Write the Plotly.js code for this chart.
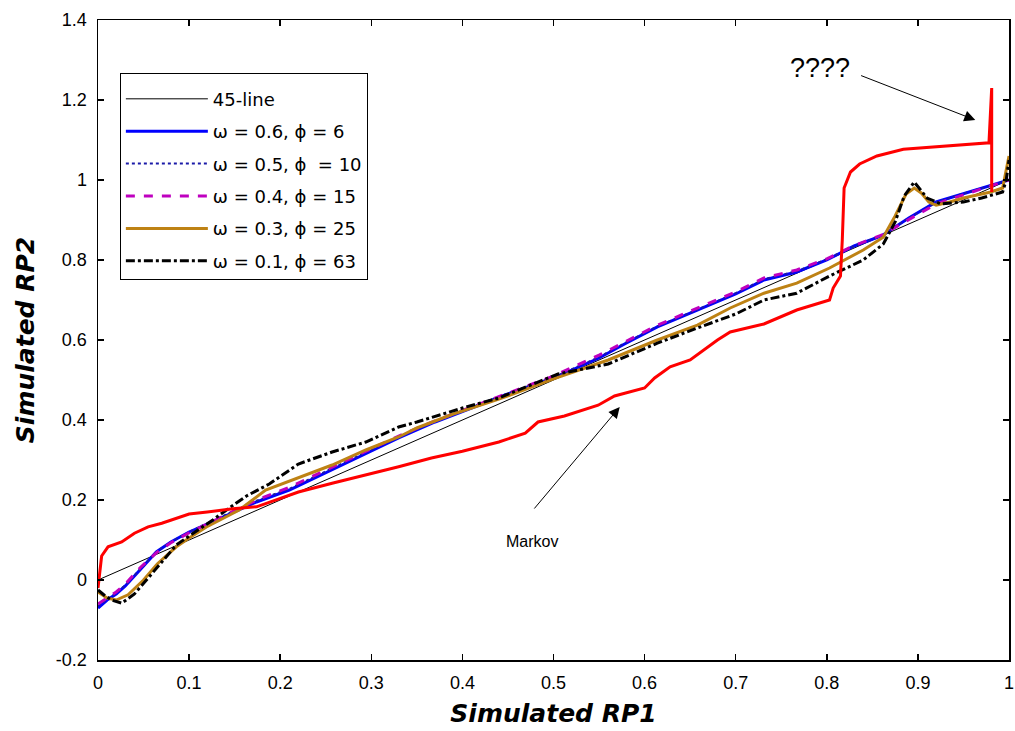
<!DOCTYPE html>
<html>
<head>
<meta charset="utf-8">
<script src="https://cdn.plot.ly/plotly-3.0.1.min.js"></script>
<style>html,body{margin:0;padding:0;background:#fff;}#chart{width:1015px;height:731px;}</style>
</head>
<body>
<div id="chart"></div>
<script>
// ---- data ----
const lineX = [0, 1];
const lineY = [0, 1];

const w6X = [0, 0.01, 0.02, 0.03, 0.046, 0.064, 0.08, 0.1, 0.12, 0.137, 0.15, 0.174, 0.21, 0.25, 0.29, 0.33, 0.37, 0.41, 0.45, 0.5, 0.55, 0.578, 0.614, 0.65, 0.68, 0.7, 0.731, 0.767, 0.8, 0.83, 0.86, 0.89, 0.92, 0.95, 0.98, 1.0];
const w6Y = [-0.07, -0.05, -0.035, -0.015, 0.025, 0.07, 0.095, 0.12, 0.14, 0.1575, 0.17, 0.195, 0.225, 0.268, 0.312, 0.355, 0.395, 0.43, 0.465, 0.505, 0.555, 0.59, 0.633, 0.667, 0.695, 0.715, 0.75, 0.77, 0.8, 0.835, 0.86, 0.905, 0.945, 0.965, 0.985, 1.0];

const w5X = [0, 0.01, 0.02, 0.03, 0.046, 0.064, 0.08, 0.1, 0.12, 0.137, 0.15, 0.174, 0.21, 0.25, 0.29, 0.33, 0.37, 0.41, 0.45, 0.5, 0.55, 0.578, 0.614, 0.65, 0.68, 0.7, 0.731, 0.767, 0.8, 0.83, 0.86, 0.89, 0.92, 0.95, 0.98, 1.0];
const w5Y = [-0.065, -0.048, -0.033, -0.013, 0.027, 0.07, 0.095, 0.12, 0.142, 0.16, 0.172, 0.198, 0.228, 0.272, 0.315, 0.357, 0.397, 0.432, 0.467, 0.507, 0.557, 0.592, 0.634, 0.668, 0.697, 0.717, 0.752, 0.772, 0.802, 0.835, 0.861, 0.905, 0.944, 0.966, 0.986, 1.0];

const w4X = [0, 0.01, 0.02, 0.03, 0.046, 0.064, 0.08, 0.1, 0.12, 0.137, 0.15, 0.174, 0.21, 0.25, 0.29, 0.33, 0.37, 0.41, 0.45, 0.5, 0.55, 0.578, 0.614, 0.65, 0.68, 0.7, 0.731, 0.767, 0.8, 0.83, 0.86, 0.89, 0.92, 0.95, 0.98, 1.0];
const w4Y = [-0.06, -0.045, -0.03, -0.01, 0.03, 0.068, 0.093, 0.118, 0.14, 0.158, 0.172, 0.2, 0.232, 0.275, 0.318, 0.36, 0.398, 0.433, 0.468, 0.51, 0.562, 0.595, 0.637, 0.672, 0.7, 0.72, 0.755, 0.775, 0.803, 0.836, 0.862, 0.9, 0.94, 0.963, 0.985, 1.0];

const w3X = [0, 0.01, 0.02, 0.033, 0.05, 0.065, 0.086, 0.1, 0.119, 0.155, 0.184, 0.22, 0.257, 0.294, 0.33, 0.35, 0.39, 0.44, 0.5, 0.56, 0.614, 0.658, 0.694, 0.731, 0.767, 0.803, 0.84, 0.862, 0.875, 0.887, 0.896, 0.904, 0.912, 0.92, 0.935, 0.95, 0.965, 0.98, 0.993, 0.997, 1.0];
const w3Y = [-0.03, -0.045, -0.05, -0.037, 0.0, 0.04, 0.083, 0.105, 0.1325, 0.175, 0.225, 0.255, 0.2875, 0.325, 0.3575, 0.38, 0.415, 0.452, 0.503, 0.55, 0.6, 0.637, 0.68, 0.717, 0.742, 0.78, 0.825, 0.857, 0.91, 0.965, 0.98, 0.967, 0.945, 0.937, 0.945, 0.955, 0.962, 0.97, 0.98, 1.025, 1.06];

const w1X = [0, 0.008, 0.015, 0.026, 0.04, 0.053, 0.068, 0.086, 0.1, 0.126, 0.144, 0.163, 0.188, 0.22, 0.257, 0.294, 0.33, 0.35, 0.4, 0.44, 0.475, 0.505, 0.56, 0.614, 0.658, 0.7, 0.731, 0.767, 0.803, 0.84, 0.862, 0.875, 0.885, 0.896, 0.903, 0.91, 0.925, 0.95, 0.97, 0.993, 0.997, 1.0];
const w1Y = [-0.025, -0.04, -0.05, -0.058, -0.035, 0.0, 0.04, 0.0875, 0.11, 0.15, 0.18, 0.21, 0.24, 0.29, 0.32, 0.345, 0.3825, 0.395, 0.43, 0.455, 0.4875, 0.515, 0.54, 0.592, 0.63, 0.665, 0.70, 0.717, 0.76, 0.8, 0.84, 0.895, 0.96, 0.995, 0.975, 0.955, 0.94, 0.945, 0.955, 0.97, 1.0, 1.05];

const markovX = [0, 0.002, 0.004, 0.011, 0.026, 0.04, 0.055, 0.07, 0.084, 0.1, 0.12, 0.148, 0.174, 0.2, 0.22, 0.257, 0.294, 0.33, 0.366, 0.4, 0.44, 0.469, 0.483, 0.512, 0.549, 0.567, 0.6, 0.611, 0.628, 0.65, 0.68, 0.694, 0.731, 0.767, 0.803, 0.807, 0.815, 0.817, 0.819, 0.826, 0.836, 0.855, 0.884, 0.928, 0.978, 0.981, 0.981];
const markovY = [-0.02, 0.03, 0.06, 0.083, 0.095, 0.117, 0.133, 0.142, 0.152, 0.165, 0.17, 0.178, 0.183, 0.205, 0.22, 0.242, 0.262, 0.283, 0.305, 0.322, 0.345, 0.367, 0.395, 0.41, 0.437, 0.46, 0.48, 0.505, 0.533, 0.55, 0.6, 0.62, 0.64, 0.675, 0.70, 0.73, 0.76, 0.85, 0.98, 1.02, 1.04, 1.06, 1.077, 1.085, 1.093, 1.23, 0.97];

const seriesNames = ['45-line', 'ω = 0.6, ϕ = 6', 'ω = 0.5, ϕ  = 10', 'ω = 0.4, ϕ = 15', 'ω = 0.3, ϕ = 25', 'ω = 0.1, ϕ = 63'];

const xTickVals = [0, 0.1, 0.2, 0.3, 0.4, 0.5, 0.6, 0.7, 0.8, 0.9, 1];
const xTickText = ['0', '0.1', '0.2', '0.3', '0.4', '0.5', '0.6', '0.7', '0.8', '0.9', '1'];
const yTickVals = [-0.2, 0, 0.2, 0.4, 0.6, 0.8, 1, 1.2, 1.4];
const yTickText = ['-0.2', '0', '0.2', '0.4', '0.6', '0.8', '1', '1.2', '1.4'];

// ---- traces ----
const traces = [
  {x: lineX, y: lineY, name: seriesNames[0], legendgroup: 'g0', mode: 'lines', line: {color: '#000000', width: 1}},
  {x: w6X, y: w6Y, name: seriesNames[1], legendgroup: 'g1', mode: 'lines', line: {color: '#0000FF', width: 3}},
  {x: w5X, y: w5Y, name: seriesNames[2], legendgroup: 'g2', mode: 'lines', line: {color: '#1a1aa8', width: 2, dash: 'dot'}},
  {x: w4X, y: w4Y, name: seriesNames[3], legendgroup: 'g3', mode: 'lines', line: {color: '#BF00BF', width: 3, dash: 'dash'}},
  {x: w3X, y: w3Y, name: seriesNames[4], legendgroup: 'g4', mode: 'lines', line: {color: '#BE8214', width: 3}},
  {x: w1X, y: w1Y, name: seriesNames[5], legendgroup: 'g5', mode: 'lines', line: {color: '#000000', width: 3, dash: 'dashdot'}},
  {x: markovX, y: markovY, name: 'Markov', mode: 'lines', showlegend: false, line: {color: '#FF0000', width: 3}}
];

const tickFont = {family: 'Liberation Sans, Arial, sans-serif', size: 18, color: '#000'};
const titleFont = {family: 'DejaVu Sans, sans-serif', size: 25, color: '#000', weight: 'bold', style: 'italic'};

const layout = {
  width: 1015, height: 731,
  margin: {l: 98, r: 6, t: 20, b: 71, pad: 0},
  paper_bgcolor: '#ffffff', plot_bgcolor: '#ffffff',
  showlegend: true,
  legend: {
    x: 0.024, y: 0.917, xanchor: 'left', yanchor: 'top',
    bgcolor: '#ffffff', bordercolor: '#000000', borderwidth: 1,
    font: {family: 'DejaVu Sans, sans-serif', size: 18, color: '#000'},
    title: {text: ' ', font: {size: 5}},
    tracegroupgap: 6, traceorder: 'grouped', itemwidth: 82
  },
  xaxis: {
    range: [0, 1], tickvals: xTickVals, ticktext: xTickText,
    ticks: 'inside', ticklen: 6, tickwidth: 1.5, tickcolor: '#000',
    showline: true, linecolor: '#000', linewidth: 1.5, mirror: 'allticks',
    showgrid: false, zeroline: false, tickfont: tickFont, ticklabelstandoff: 6,
    automargin: false,
    title: {text: 'Simulated RP1', font: titleFont, standoff: 12}
  },
  yaxis: {
    range: [-0.2, 1.4], tickvals: yTickVals, ticktext: yTickText,
    ticks: 'inside', ticklen: 6, tickwidth: 1.5, tickcolor: '#000',
    showline: true, linecolor: '#000', linewidth: 1.5, mirror: 'allticks',
    showgrid: false, zeroline: false, tickfont: tickFont, ticklabelstandoff: 6,
    automargin: false,
    title: {text: 'Simulated RP2', font: titleFont, standoff: 14}
  },
  annotations: [
    {x: 0.793, y: 1.28, xref: 'x', yref: 'y', text: '????', showarrow: false,
     font: {family: 'Liberation Sans, Arial, sans-serif', size: 27, color: '#000'}},
    {x: 0.963, y: 1.15, xref: 'x', yref: 'y', ax: 0.836, ay: 1.2625, axref: 'x', ayref: 'y',
     text: '', showarrow: true, arrowhead: 2, arrowsize: 2.2, arrowwidth: 1, arrowcolor: '#000'},
    {x: 0.4765, y: 0.0975, xref: 'x', yref: 'y', text: 'Markov', showarrow: false,
     font: {family: 'Liberation Sans, Arial, sans-serif', size: 16, color: '#000'}},
    {x: 0.5727, y: 0.4325, xref: 'x', yref: 'y', ax: 0.4776, ay: 0.175, axref: 'x', ayref: 'y',
     text: '', showarrow: true, arrowhead: 2, arrowsize: 2.2, arrowwidth: 1, arrowcolor: '#000'}
  ]
};

Plotly.newPlot('chart', traces, layout, {displayModeBar: false, staticPlot: true});
</script>
</body>
</html>
